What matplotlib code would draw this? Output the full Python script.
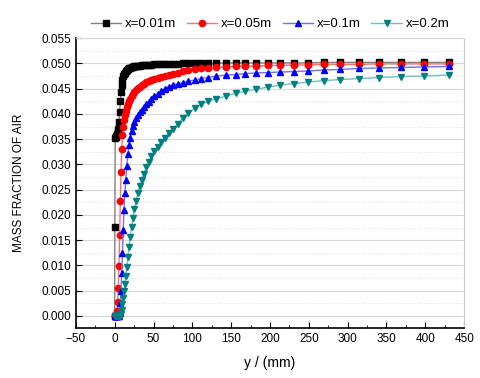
#Python code for plotting
import numpy as np
import matplotlib.pyplot as plt
from matplotlib.ticker import MultipleLocator

plt.rcParams['font.family'] = ['Liberation Sans', 'DejaVu Sans']

#Wall distance (mm), shared mesh
y_mm = [0, 0.2, 0.7, 1.3, 2.0, 2.8, 3.7, 4.6, 5.5, 6.4,
        7.3, 8.2, 9.1, 10.0, 11.0, 12.0, 13.1, 14.3, 15.6, 17.0,
        18.5, 20.1, 21.8, 23.6, 25.5, 27.6, 29.8, 32.2, 34.8, 37.6,
        40.6, 43.9, 47.4, 51.2, 55.3, 59.8, 64.5, 69.5, 75.0, 81.0,
        87.5, 94.5, 103, 111, 120, 131, 143, 156, 168, 182,
        197, 213, 230.5, 249, 269, 290, 314, 340, 368.6, 398, 430]

#Mass fraction of air at each station
x001 = [0.0, 0.0176, 0.0353, 0.0355, 0.0357, 0.0360, 0.0364, 0.0370, 0.0385, 0.0404,
        0.0425, 0.0444, 0.0458, 0.0468, 0.0475, 0.0479, 0.0482, 0.0485, 0.0487, 0.0489,
        0.0490, 0.0491, 0.0492, 0.0493, 0.0494, 0.0494, 0.0495, 0.0495, 0.0496, 0.0496,
        0.0497, 0.0497, 0.0497, 0.0498, 0.0498, 0.0498, 0.0499, 0.0499, 0.0499, 0.0499,
        0.0500, 0.0500, 0.0500, 0.0500, 0.0500, 0.0500, 0.0501, 0.0501, 0.0501, 0.0501,
        0.0501, 0.0501, 0.0501, 0.0501, 0.0502, 0.0502, 0.0502, 0.0502, 0.0502, 0.0502, 0.0502]
x005 = [0.0, 0.0, 0.0, 0.0, 0.0, 0.0009, 0.0028, 0.0055, 0.0098, 0.0161,
        0.0227, 0.0286, 0.0330, 0.0359, 0.0375, 0.0388, 0.0398, 0.0406, 0.0413, 0.0419,
        0.0425, 0.0430, 0.0435, 0.0440, 0.0444, 0.0448, 0.0451, 0.0454, 0.0457, 0.0460,
        0.0463, 0.0465, 0.0467, 0.0469, 0.0471, 0.0473, 0.0475, 0.0477, 0.0479, 0.0482,
        0.0485, 0.0487, 0.0488, 0.0490, 0.0490, 0.0492, 0.0493, 0.0494, 0.0495, 0.0495,
        0.0496, 0.0496, 0.0497, 0.0497, 0.0498, 0.0498, 0.0498, 0.0499, 0.0499, 0.0499, 0.0499]
x01 = [0.0, 0.0, 0.0, 0.0, 0.0, 0.0, 0.0, 0.0, 0.0, 0.0005,
       0.0025, 0.0050, 0.0085, 0.0125, 0.0170, 0.0210, 0.0244, 0.0270, 0.0297, 0.0320,
       0.0338, 0.0353, 0.0366, 0.0376, 0.0385, 0.0392, 0.0398, 0.0403, 0.0408, 0.0414,
       0.0419, 0.0424, 0.0430, 0.0435, 0.0440, 0.0445, 0.0450, 0.0454, 0.0457, 0.0460,
       0.0462, 0.0465, 0.0467, 0.0470, 0.0472, 0.0475, 0.0477, 0.0478, 0.0480, 0.0481,
       0.0482, 0.0483, 0.0484, 0.0485, 0.0487, 0.0488, 0.0490, 0.0491, 0.0492, 0.0493, 0.0494]
x02 = [0.0, 0.0, 0.0, 0.0, 0.0, 0.0, 0.0, 0.0, 0.0, 0.0,
       0.0, 0.0003, 0.0012, 0.0024, 0.0036, 0.0049, 0.0063, 0.0079, 0.0097, 0.0117,
       0.0137, 0.0157, 0.0176, 0.0194, 0.0211, 0.0227, 0.0243, 0.0257, 0.0270, 0.0282,
       0.0294, 0.0305, 0.0316, 0.0326, 0.0335, 0.0344, 0.0353, 0.0362, 0.0371, 0.0380,
       0.0391, 0.0401, 0.0411, 0.0419, 0.0425, 0.0430, 0.0435, 0.0441, 0.0445, 0.0449,
       0.0453, 0.0457, 0.0460, 0.0463, 0.0466, 0.0468, 0.0470, 0.0472, 0.0474, 0.0475, 0.0477]

labels = ['x=0.01m', 'x=0.05m', 'x=0.1m', 'x=0.2m']

#Create the plot
fig = plt.figure(figsize=(4.8, 3.78), dpi=100)
ax = fig.add_axes([0.158, 0.132, 0.809, 0.767])

ax.plot(y_mm, x001, color='#808080', lw=1, marker='s', ms=4.5,
        mfc='black', mec='black', label=labels[0])
ax.plot(y_mm, x005, color='#ff7070', lw=1, marker='o', ms=4.5,
        mfc='red', mec='red', label=labels[1])
ax.plot(y_mm, x01, color='#7070ff', lw=1, marker='^', ms=5,
        mfc='blue', mec='blue', label=labels[2])
ax.plot(y_mm, x02, color='#70c0c0', lw=1, marker='v', ms=5,
        mfc='#008080', mec='#008080', label=labels[3])

#Axis limits and ticks
ax.set_xlim(-50, 450)
ax.set_ylim(-0.0024, 0.055)
ax.xaxis.set_major_locator(MultipleLocator(50))
ax.xaxis.set_minor_locator(MultipleLocator(25))
ax.yaxis.set_major_locator(MultipleLocator(0.005))
ax.yaxis.set_minor_locator(MultipleLocator(0.0025))
ax.yaxis.set_major_formatter(plt.FormatStrFormatter('%.3f'))
ax.tick_params(which='both', direction='in', labelsize=8.5, colors='black')
ax.tick_params(which='major', length=4)
ax.tick_params(which='minor', length=2)
ax.tick_params(axis='y', which='minor', length=0)

#Grid
ax.grid(True, which='major', axis='y', color='#d8d8d8', lw=0.8)
ax.grid(True, which='minor', axis='y', color='#e0e0e0', lw=0.8, ls=':')
ax.set_axisbelow(True)

#Spines
ax.spines['top'].set_color('#d8d8d8')
ax.spines['right'].set_color('#c8c8c8')
ax.spines['left'].set_linewidth(1.2)
ax.spines['bottom'].set_linewidth(1.2)

#Labels
ax.set_xlabel('y / (mm)', fontsize=10, labelpad=8)
ax.set_ylabel('MASS FRACTION OF AIR', fontsize=8.5, labelpad=12)
ax.legend(loc='lower center', bbox_to_anchor=(0.5, 1.0), ncol=4, frameon=False,
          fontsize=9.5, handlelength=2.3, handletextpad=0.3, columnspacing=0.8,
          borderaxespad=0.2)

#Save the plot
plt.savefig('out.png', dpi=100)
